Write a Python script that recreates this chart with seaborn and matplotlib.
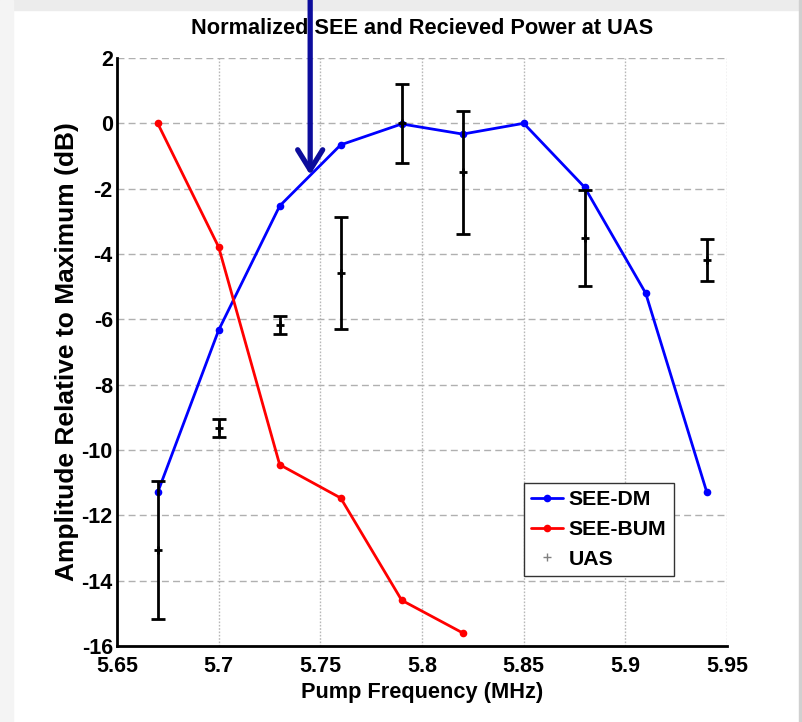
import matplotlib
matplotlib.use("Agg")
import matplotlib.pyplot as plt
import matplotlib.transforms as mtransforms
from matplotlib.lines import Line2D
from matplotlib.patches import Rectangle
import numpy as np
import pandas as pd
import seaborn as sns

# Pump frequencies (MHz)
freq_dm = [5.67, 5.70, 5.73, 5.76, 5.79, 5.82, 5.85, 5.88, 5.91, 5.94]
see_dm = [-11.3, -6.33, -2.53, -0.66, -0.02, -0.33, 0.0, -1.96, -5.2, -11.28]

freq_bum = [5.67, 5.70, 5.73, 5.76, 5.79, 5.82]
see_bum = [0.0, -3.79, -10.45, -11.47, -14.6, -15.6]

freq_uas = [5.67, 5.70, 5.73, 5.76, 5.79, 5.82, 5.88, 5.94]
uas_mean = [-13.06, -9.32, -6.17, -4.59, 0.0, -1.5, -3.5, -4.18]
uas_err = [2.1, 0.28, 0.28, 1.71, 1.2, 1.88, 1.47, 0.65]

x_ticks = [5.65, 5.7, 5.75, 5.8, 5.85, 5.9, 5.95]
x_tick_labels = ["5.65", "5.7", "5.75", "5.8", "5.85", "5.9", "5.95"]
y_ticks = list(range(-16, 3, 2))

sns.set_style("white")
plt.rcParams["font.family"] = ["Liberation Sans", "DejaVu Sans"]
plt.rcParams["font.weight"] = "bold"
plt.rcParams["axes.unicode_minus"] = False
plt.rcParams["text.color"] = "black"
plt.rcParams["axes.labelcolor"] = "black"
plt.rcParams["xtick.color"] = "black"
plt.rcParams["ytick.color"] = "black"

fig = plt.figure(figsize=(8.02, 7.22), dpi=100)
fig.patch.set_facecolor("white")
ax = fig.add_axes([0.1459, 0.1053, 0.9065 - 0.1459, 0.9197 - 0.1053])

df_dm = pd.DataFrame({"freq": freq_dm, "amp": see_dm})
df_bum = pd.DataFrame({"freq": freq_bum, "amp": see_bum})

sns.lineplot(data=df_dm, x="freq", y="amp", ax=ax, color="#0000ff",
             linewidth=2.0, marker="o", markersize=5.5, markeredgewidth=0,
             zorder=4)
sns.lineplot(data=df_bum, x="freq", y="amp", ax=ax, color="#ff0000",
             linewidth=2.0, marker="o", markersize=5.5, markeredgewidth=0,
             zorder=4)
ax.errorbar(freq_uas, uas_mean, yerr=uas_err, fmt="none", ecolor="black",
            elinewidth=2.0, capsize=5, capthick=2.0, zorder=5)
sns.scatterplot(x=freq_uas, y=uas_mean, ax=ax, marker="+", color="black",
                s=40, linewidth=2.0, zorder=6)

ax.set_xlim(5.65, 5.95)
ax.set_ylim(-16, 2)
ax.set_xticks(x_ticks)
ax.set_xticklabels(x_tick_labels)
ax.set_yticks(y_ticks)
ax.tick_params(axis="both", direction="in", length=5, width=1.5,
               labelsize=15.5, colors="black")
ax.tick_params(axis="x", pad=7)
ax.tick_params(axis="y", pad=3)
for lbl in ax.get_xticklabels() + ax.get_yticklabels():
    lbl.set_fontweight("bold")

for side in ["top", "right"]:
    ax.spines[side].set_visible(False)
for side in ["left", "bottom"]:
    ax.spines[side].set_color("black")
    ax.spines[side].set_linewidth(2.0)

ax.xaxis.grid(True, color="#b8b8b8", linestyle=(0, (1.2, 1.2)), linewidth=1.0)
ax.yaxis.grid(True, color="#b0b0b0", linestyle=(0, (5, 3)), linewidth=1.0)
ax.set_axisbelow(True)

ax.set_title("Normalized SEE and Recieved Power at UAS", fontsize=15.7,
             fontweight="bold", pad=17, color="black")
ax.set_xlabel("Pump Frequency (MHz)", fontsize=15.7, fontweight="bold",
              labelpad=4)
ax.set_ylabel("Amplitude Relative to Maximum (dB)", fontsize=19,
              fontweight="bold", labelpad=2)

handles = [
    Line2D([], [], color="#0000ff", linewidth=2.0, marker="o", markersize=5.5,
           markeredgewidth=0),
    Line2D([], [], color="#ff0000", linewidth=2.0, marker="o", markersize=5.5,
           markeredgewidth=0),
    Line2D([], [], color="#808080", linestyle="none", marker="+",
           markersize=6, markeredgewidth=1.0),
]
leg = ax.legend(handles, ["SEE-DM", "SEE-BUM", "UAS"],
                loc="lower left", bbox_to_anchor=(0.667, 0.119),
                prop={"size": 15.3, "weight": "bold"}, fancybox=False,
                framealpha=1, edgecolor="#333333", borderpad=0.35,
                handlelength=1.5, handletextpad=0.25, labelspacing=0.5,
                borderaxespad=0)
leg.get_frame().set_linewidth(1.0)

# Pointer arrow marking the shoulder of the SEE-DM curve
arrow_trans = mtransforms.blended_transform_factory(ax.transData,
                                                    fig.transFigure)
ax.annotate("", xy=(5.745, -1.58), xycoords="data",
            xytext=(5.745, 1.0), textcoords=arrow_trans,
            arrowprops=dict(arrowstyle="->, head_length=1.45, head_width=0.9",
                            color="#0c0c9c", linewidth=3.8,
                            shrinkA=0, shrinkB=0, mutation_scale=10),
            annotation_clip=False, zorder=10)

# Window frame around the figure
fig.patches.append(Rectangle((0, 1 - 10 / 722), 1, 10 / 722,
                             transform=fig.transFigure, color="#ececec",
                             zorder=-1))
fig.patches.append(Rectangle((0, 0), 13 / 802, 1, transform=fig.transFigure,
                             color="#f4f4f4", zorder=-1))
fig.patches.append(Rectangle((799 / 802, 0), 3 / 802, 1,
                             transform=fig.transFigure, color="#d0d0d0",
                             zorder=-1))

fig.savefig("out.png", dpi=100)
